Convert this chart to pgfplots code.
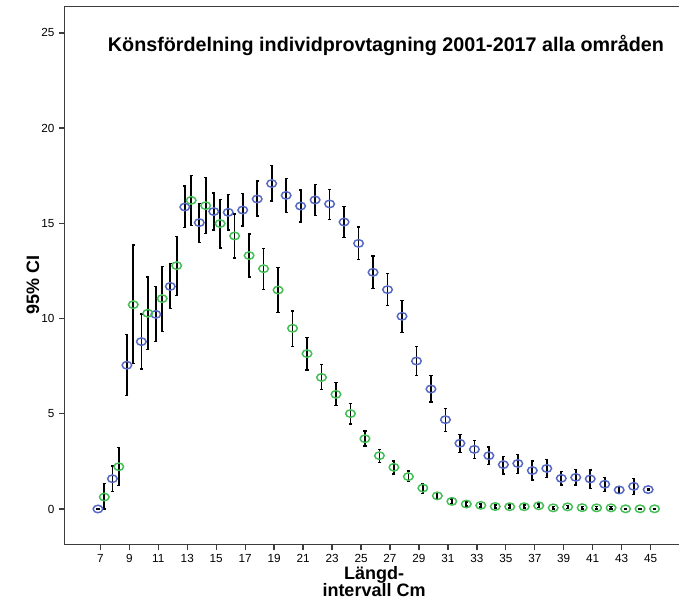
\documentclass[border=0pt]{standalone}
\usepackage{pgfplots}
\pgfplotsset{compat=1.18}
\usepackage{pgfplotstable}
\usepackage{fontspec}
\setmainfont{Liberation Sans}

\definecolor{grpblue}{RGB}{84,104,196}
\definecolor{grpgreen}{RGB}{66,190,84}
\definecolor{spine}{RGB}{60,60,60}

% length class (cm), mean, upper and lower half-width of the 95% CI
\pgfplotstableread{
k  y     ep    em
7  0.00  0.02  0.02
8  1.59  0.67  0.66
9  7.55  1.62  1.60
10 8.79  1.45  1.44
11 10.22 1.46  1.43
12 11.69 1.21  1.17
13 15.86 1.10  1.07
14 15.04 1.01  1.04
15 15.62 0.98  0.98
16 15.58 0.95  0.94
17 15.70 0.88  0.84
18 16.28 0.95  0.89
19 17.09 0.94  0.91
20 16.47 0.88  0.89
21 15.91 0.84  0.85
22 16.23 0.82  0.82
23 16.02 0.77  0.81
24 15.07 0.81  0.82
25 13.95 0.86  0.84
26 12.43 0.86  0.86
27 11.52 0.84  0.84
28 10.12 0.82  0.84
29 7.77  0.76  0.75
30 6.30  0.70  0.68
31 4.69  0.60  0.63
32 3.45  0.47  0.49
33 3.13  0.46  0.49
34 2.80  0.46  0.47
35 2.33  0.44  0.49
36 2.39  0.46  0.52
37 2.02  0.50  0.50
38 2.13  0.48  0.48
39 1.61  0.37  0.35
40 1.66  0.42  0.40
41 1.58  0.47  0.51
42 1.30  0.35  0.37
43 1.00  0.17  0.18
44 1.19  0.40  0.42
45 1.02  0.03  0.03
}\bluetab

\pgfplotstableread{
k  y     ep    em
7  0.63  0.72  0.63
8  2.22  1.00  0.99
9  10.73 3.14  3.10
10 10.28 1.90  1.91
11 11.05 1.69  1.74
12 12.78 1.52  1.56
13 16.21 1.30  1.33
14 15.93 1.47  1.47
15 14.99 1.26  1.28
16 14.34 1.15  1.17
17 13.31 1.12  1.13
18 12.62 1.07  1.08
19 11.50 1.19  1.19
20 9.49  0.91  0.95
21 8.16  0.84  0.86
22 6.91  0.67  0.64
23 6.02  0.62  0.59
24 5.01  0.54  0.55
25 3.69  0.41  0.38
26 2.80  0.33  0.37
27 2.19  0.33  0.35
28 1.70  0.30  0.26
29 1.10  0.25  0.28
30 0.69  0.18  0.18
31 0.40  0.12  0.12
32 0.26  0.10  0.10
33 0.19  0.08  0.08
34 0.13  0.08  0.08
35 0.12  0.08  0.08
36 0.12  0.08  0.08
37 0.17  0.08  0.08
38 0.06  0.07  0.07
39 0.11  0.08  0.08
40 0.07  0.07  0.07
41 0.06  0.07  0.07
42 0.06  0.06  0.06
43 0.01  0.02  0.02
44 0.01  0.02  0.02
45 0.01  0.02  0.02
}\greentab

\begin{document}
\begin{tikzpicture}
\begin{axis}[
  at={(48.375pt,41.55pt)}, anchor=south west,
  scale only axis,
  width=460.875pt, height=403.575pt,
  xmin=4.521, xmax=46.96,
  ymin=-1.87, ymax=26.39,
  clip=false,
  axis x line*=bottom, axis y line*=left,
  axis line style={-, draw=spine, line width=1.2pt},
  xtick={7,9,...,45},
  ytick={0,5,10,15,20,25},
  tick align=outside,
  major tick length=4pt,
  tick style={draw=spine, line width=1pt},
  /pgf/number format/assume math mode=true,
  ticklabel style={font=\fontsize{8.8}{10}\selectfont},
  xlabel={Längd-\\intervall Cm},
  xlabel style={font=\bfseries\fontsize{13.5}{13}\selectfont, align=center,
    at={(axis description cs:0.5037,-0.0688)}, anchor=center},
  ylabel={95\% CI},
  ylabel style={font=\bfseries\fontsize{13.5}{15}\selectfont,
    at={(axis description cs:-0.0513,0.4824)}, anchor=center},
]
% group means
\addplot[draw=none, mark=o, mark size=3.6pt,
  mark options={draw=grpblue, fill=none, line width=1.1pt, yscale=0.78}]
  table[x expr=\thisrow{k}-0.17, y=y] {\bluetab};
\addplot[draw=none, mark=o, mark size=3.6pt,
  mark options={draw=grpgreen, fill=none, line width=1.1pt, yscale=0.78}]
  table[x expr=\thisrow{k}+0.27, y=y] {\greentab};

% confidence intervals
\addplot[draw=none, mark=none,
  error bars/.cd, y dir=both, y explicit,
  error bar style={draw=black, line width=1.3pt},
  error mark options={rotate=90, draw=black, mark size=1.2pt, line width=1.1pt}]
  table[x expr=\thisrow{k}-0.17, y=y, y error plus=ep, y error minus=em] {\bluetab};
\addplot[draw=none, mark=none,
  error bars/.cd, y dir=both, y explicit,
  error bar style={draw=black, line width=1.3pt},
  error mark options={rotate=90, draw=black, mark size=1.2pt, line width=1.1pt}]
  table[x expr=\thisrow{k}+0.27, y=y, y error plus=ep, y error minus=em] {\greentab};

\draw[spine, line width=1.2pt] (rel axis cs:0,1) -- (rel axis cs:1,1);
\node[font=\bfseries\fontsize{14.8}{16}\selectfont, anchor=base]
  at (axis cs:26.72,24.05) {Könsfördelning individprovtagning 2001-2017 alla områden};
\end{axis}
\pgfresetboundingbox
\path (0,0) rectangle (509.25pt,450pt);
\end{tikzpicture}
\end{document}
